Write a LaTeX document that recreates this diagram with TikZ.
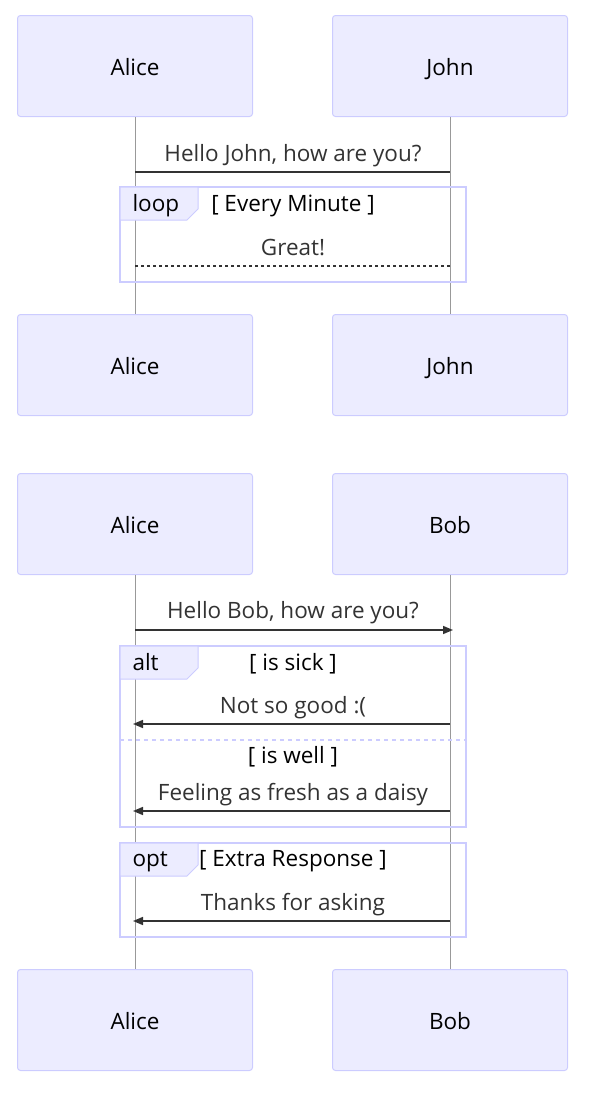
\documentclass[tikz,border=0pt]{standalone}
\usepackage{fontspec}
\setmainfont{Open Sans}
\usetikzlibrary{arrows.meta}
\definecolor{actorfill}{HTML}{ECECFF}
\definecolor{actorline}{HTML}{CCCCFF}
\definecolor{msgcol}{HTML}{333333}
\definecolor{lifecol}{HTML}{999999}

\begin{document}
\begin{tikzpicture}[x=1pt,y=-1pt,
  actor/.style={draw=actorline,fill=actorfill,rounded corners=3pt,line width=1pt,
    minimum width=235pt,minimum height=101pt,text height=19pt,text depth=0pt,
    font=\fontsize{22.5}{26}\selectfont},
  msg/.style={text=msgcol,text height=16pt,text depth=5pt,font=\fontsize{22.5}{26}\selectfont},
  guard/.style={text=black,text height=16pt,text depth=5pt,font=\fontsize{22.5}{26}\selectfont},
  life/.style={draw=lifecol,line width=0.7pt},
  call/.style={draw=msgcol,line width=1.6pt},
  reply/.style={draw=msgcol,line width=1.6pt,-{Triangle[length=10pt,width=8pt]}},
  frame/.style={draw=actorline,line width=2.2pt},
  tab/.style={draw=actorline,fill=actorfill,line width=1pt}]
\useasboundingbox (0,0) rectangle (593,1093);
% Actors, first diagram
\node[actor] (alice1) at (135,66) {Alice};
\node[actor] (john1) at (450,66) {John};
\node[actor] (alice2) at (135,365) {Alice};
\node[actor] (john2) at (450,365) {John};
% Actors, second diagram
\node[actor] (alice3) at (135,524) {Alice};
\node[actor] (bob1) at (450,524) {Bob};
\node[actor] (alice4) at (135,1020) {Alice};
\node[actor] (bob2) at (450,1020) {Bob};
% Lifelines
\draw[life] (alice1.south) -- (alice2.north);
\draw[life] (john1.south) -- (john2.north);
\draw[life] (alice3.south) -- (alice4.north);
\draw[life] (bob1.south) -- (bob2.north);
% Hello John
\coordinate (a1) at (135,172);
\coordinate (j1) at (450,172);
\node[msg] (m1) at (293,156) {Hello John, how are you?};
\draw[call] (a1) -- (j1);
% Loop frame
\draw[frame] (120,187) rectangle (466,282);
\draw[tab] (120,187) -- (198,187) -- (198,209) -- (187,220) -- (120,220) -- cycle;
\node[guard,anchor=west] (loop) at (129,206) {loop};
\node[guard] (g1) at (293,206) {[ Every Minute ]};
\coordinate (j2) at (450,266);
\coordinate (a2) at (135,266);
\node[msg] (m2) at (293,249.5) {Great!};
\draw[call,line width=1.6pt,dash pattern=on 3pt off 3pt] (j2) -- (a2);
% Hello Bob
\coordinate (a3) at (135,630);
\coordinate (b3) at (453,630);
\node[msg] (m3) at (293,613) {Hello Bob, how are you?};
\draw[reply] (a3) -- (b3);
% Alt frame
\draw[frame] (120,646) rectangle (466,827);
\draw[tab] (120,646) -- (198,646) -- (198,668) -- (187,679) -- (120,679) -- cycle;
\node[guard,anchor=west] (alt) at (129,664.5) {alt};
\node[guard] (g2) at (293,664.5) {[ is sick ]};
\coordinate (b4) at (450,724);
\coordinate (a4) at (133,724);
\node[msg] (m4) at (293,708) {Not so good :(};
\draw[reply] (b4) -- (a4);
\draw[draw=actorline,line width=2pt,dash pattern=on 4pt off 4pt] (120,740) -- (466,740);
\node[guard] (g3) at (293,758) {[ is well ]};
\coordinate (b5) at (450,811);
\coordinate (a5) at (133,811);
\node[msg] (m5) at (293,794.5) {Feeling as fresh as a daisy};
\draw[reply] (b5) -- (a5);
% Opt frame
\draw[frame] (120,843) rectangle (466,937);
\draw[tab] (120,843) -- (198,843) -- (198,865) -- (187,876) -- (120,876) -- cycle;
\node[guard,anchor=west] (opt) at (129,861) {opt};
\node[guard] (g4) at (293,861) {[ Extra Response ]};
\coordinate (b6) at (450,921);
\coordinate (a6) at (133,921);
\node[msg] (m6) at (293,904.5) {Thanks for asking};
\draw[reply] (b6) -- (a6);
\end{tikzpicture}
\end{document}
